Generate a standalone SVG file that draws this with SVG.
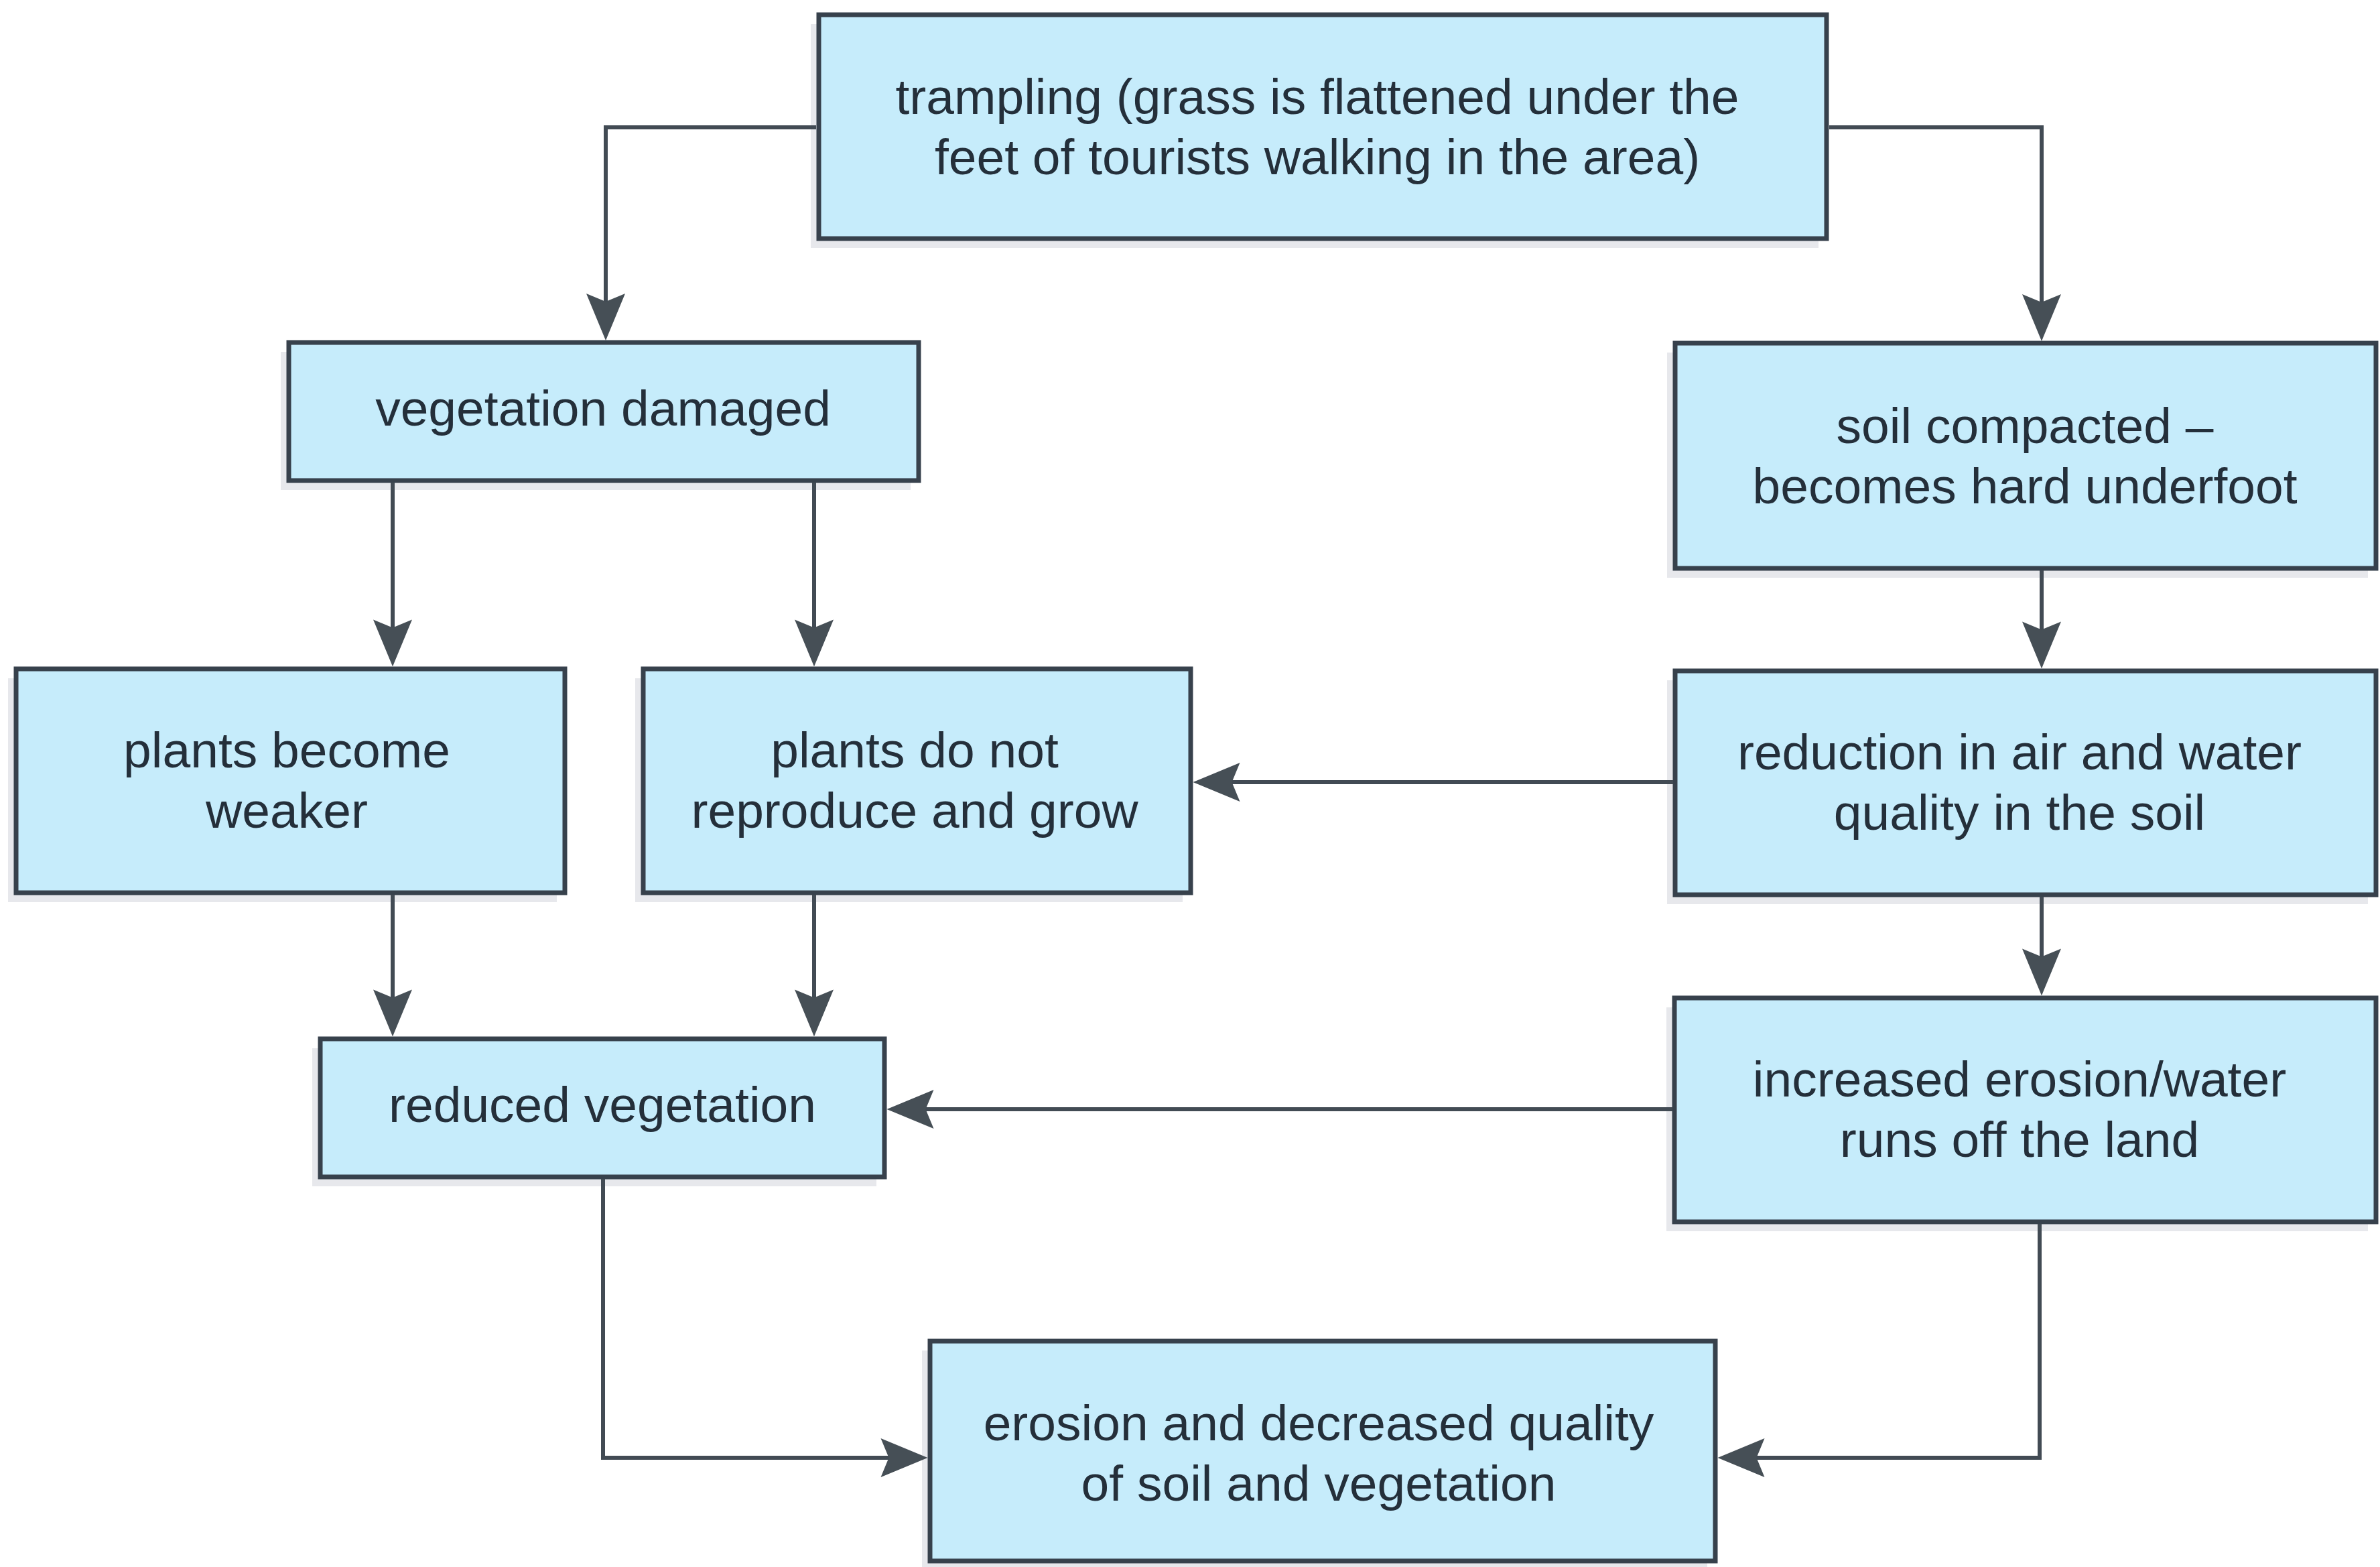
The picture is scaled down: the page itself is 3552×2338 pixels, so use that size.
<svg xmlns="http://www.w3.org/2000/svg" width="3552" height="2338" viewBox="0 0 3552 2338">
<style>
.box{fill:#c6ecfb;stroke:#37414c;stroke-width:7}
.sh{fill:#e7e8ec}
.t{font-family:"Liberation Sans",Arial,Helvetica,sans-serif;font-size:75px;fill:#242f3a;text-anchor:middle}
.c{fill:none;stroke:#424b54;stroke-width:6}
</style>
<defs>
<marker id="ah" markerUnits="userSpaceOnUse" viewBox="-55 -35 80 70" markerWidth="80" markerHeight="70" refX="0" refY="0" orient="auto">
<path d="M20,0 L-50,-29 L-38,0 L-50,29 Z" fill="#464f56"/>
</marker>
</defs>
<rect width="3552" height="2338" fill="#ffffff"/>
<g id="n-trampling">
<rect class="sh" x="1210" y="36" width="1504" height="334"/>
<rect class="box" x="1222" y="22" width="1504" height="334"/>
<text class="t" x="1966" y="170">trampling (grass is flattened under the</text>
<text class="t" x="1966" y="260">feet of tourists walking in the area)</text>
</g>
<g id="n-vegetation-damaged">
<rect class="sh" x="419" y="525" width="940" height="206"/>
<rect class="box" x="431" y="511" width="940" height="206"/>
<text class="t" x="900" y="635">vegetation damaged</text>
</g>
<g id="n-soil-compacted">
<rect class="sh" x="2488" y="526" width="1046" height="336"/>
<rect class="box" x="2500" y="512" width="1046" height="336"/>
<text class="t" x="3022" y="661">soil compacted –</text>
<text class="t" x="3022" y="751">becomes hard underfoot</text>
</g>
<g id="n-plants-weaker">
<rect class="sh" x="12" y="1012" width="819" height="334"/>
<rect class="box" x="24" y="998" width="819" height="334"/>
<text class="t" x="428" y="1145">plants become</text>
<text class="t" x="428" y="1235">weaker</text>
</g>
<g id="n-plants-not-grow">
<rect class="sh" x="948" y="1012" width="817" height="334"/>
<rect class="box" x="960" y="998" width="817" height="334"/>
<text class="t" x="1365" y="1145">plants do not</text>
<text class="t" x="1365" y="1235">reproduce and grow</text>
</g>
<g id="n-reduction-air-water">
<rect class="sh" x="2488" y="1015" width="1046" height="334"/>
<rect class="box" x="2500" y="1001" width="1046" height="334"/>
<text class="t" x="3014" y="1148">reduction in air and water</text>
<text class="t" x="3014" y="1238">quality in the soil</text>
</g>
<g id="n-increased-erosion">
<rect class="sh" x="2487" y="1503" width="1047" height="334"/>
<rect class="box" x="2499" y="1489" width="1047" height="334"/>
<text class="t" x="3014" y="1636">increased erosion/water</text>
<text class="t" x="3014" y="1726">runs off the land</text>
</g>
<g id="n-reduced-vegetation">
<rect class="sh" x="466" y="1564" width="842" height="206"/>
<rect class="box" x="478" y="1550" width="842" height="206"/>
<text class="t" x="899" y="1674">reduced vegetation</text>
</g>
<g id="n-erosion-decreased-quality">
<rect class="sh" x="1376" y="2015" width="1172" height="328"/>
<rect class="box" x="1388" y="2001" width="1172" height="328"/>
<text class="t" x="1968" y="2149">erosion and decreased quality</text>
<text class="t" x="1968" y="2239">of soil and vegetation</text>
</g>
<g id="connectors">
<path class="c" d="M1218,190 H904 V488" marker-end="url(#ah)"/>
<path class="c" d="M2730,190 H3047 V489" marker-end="url(#ah)"/>
<path class="c" d="M586,720 V974.5" marker-end="url(#ah)"/>
<path class="c" d="M1215,720 V974.5" marker-end="url(#ah)"/>
<path class="c" d="M3047,851 V977.5" marker-end="url(#ah)"/>
<path class="c" d="M2497,1167 H1800.5" marker-end="url(#ah)"/>
<path class="c" d="M3047,1338 V1465.5" marker-end="url(#ah)"/>
<path class="c" d="M586,1335 V1526.5" marker-end="url(#ah)"/>
<path class="c" d="M1215,1335 V1526.5" marker-end="url(#ah)"/>
<path class="c" d="M2496,1655 H1343.5" marker-end="url(#ah)"/>
<path class="c" d="M900,1759 V2175 H1364.5" marker-end="url(#ah)"/>
<path class="c" d="M3044,1826 V2175 H2583.5" marker-end="url(#ah)"/>
</g>
</svg>
